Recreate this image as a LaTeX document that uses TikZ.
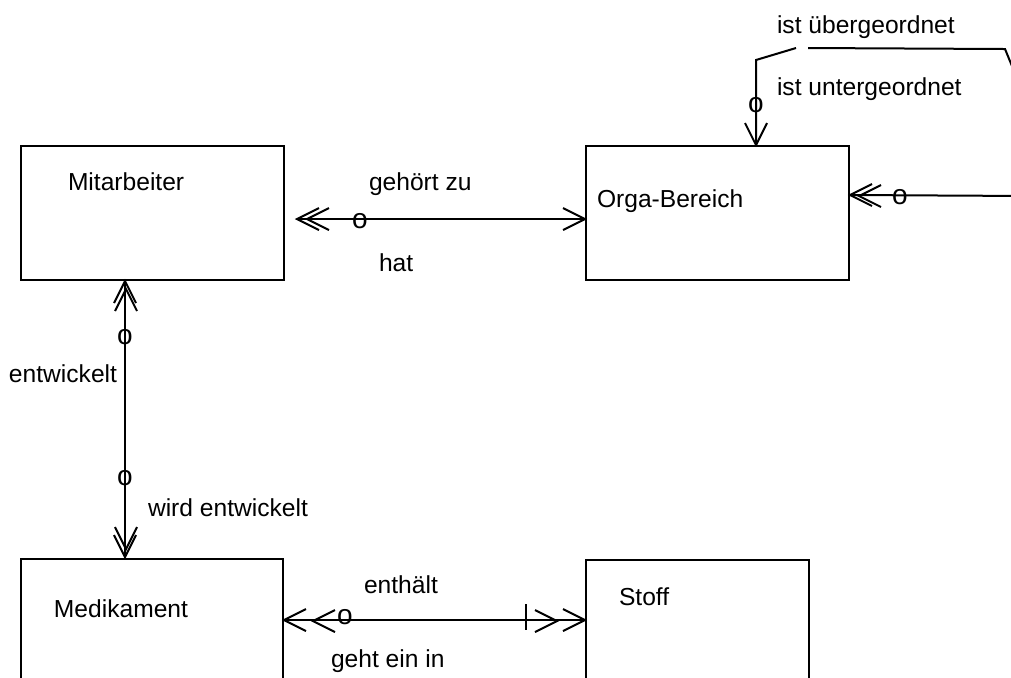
\documentclass[tikz,border=0pt]{standalone}
\usepackage{fontspec}
\setmainfont{Liberation Sans}
\usetikzlibrary{fit,calc}
\begin{document}
\begin{tikzpicture}[x=0.5pt,y=-0.5pt,line width=1pt,
  box/.style={draw,inner sep=0pt},
  lbl/.style={anchor=base west,inner sep=0pt,font=\fontsize{12.3}{14}\selectfont},
  omark/.style={inner sep=0pt,font=\fontsize{14}{16}\selectfont},
  pL/.pic={\draw (22,-11) -- (0,0) -- (22,11);},
  pR/.pic={\draw (-22,-11) -- (0,0) -- (-22,11);},
  pU/.pic={\draw (-11,22) -- (0,0) -- (11,22);},
  pD/.pic={\draw (-11,-22) -- (0,0) -- (11,-22);}]
\useasboundingbox (0,0) rectangle (1011,677);
\clip (0,0) rectangle (1011,677);
% entities
\node[box,fit={(21,146)(284,280)}] (M) {};
\node[box,fit={(586,146)(849,280)}] (O) {};
\node[box,fit={(21,559)(283,740)}] (Med) {};
\node[box,fit={(586,560)(809,740)}] (S) {};
\node[lbl] (tM) at (67,190) {Mitarbeiter};
\node[lbl] (tO) at (596,207) {Orga-Bereich};
\node[lbl] (tMed) at (53,617) {Medikament};
\node[lbl] (tS) at (618,605) {Stoff};
% labels
\node[lbl] (l1) at (368,190) {gehört zu};
\node[lbl] (l2) at (378,271) {hat};
\node[lbl] (l3) at (8,382) {entwickelt};
\node[lbl] (l4) at (147,516) {wird entwickelt};
\node[lbl] (l5) at (363,593) {enthält};
\node[lbl] (l6) at (330,667) {geht ein in};
\node[lbl] (l7) at (776,33) {ist übergeordnet};
\node[lbl] (l8) at (776,95) {ist untergeordnet};
% gehört zu / hat
\coordinate (g1) at (297,219);
\coordinate (g2) at (g1 -| O.west);
\draw (g1) -- (g2);
\pic at (g1) {pL};
\pic at (307,219) {pL};
\pic at (g2) {pR};
\node[omark] (o1) at (360,221) {o};
% entwickelt
\path (M.south west) ++(105,0) coordinate (v1);
\path (Med.north west) ++(105,-1) coordinate (v2);
\draw (v1) -- (v2);
\pic at (v1) {pU};
\pic at (126,289) {pU};
\pic at (v2) {pD};
\pic at (126,549) {pD};
\node[omark] (o2) at (125,337) {o};
\node[omark] (o3) at (125,478) {o};
% enthält
\path (Med.north east) ++(0,62) coordinate (b1);
\path (S.north west) ++(0,61) coordinate (b2);
\draw (b1) -- (b2);
\pic at (b1) {pL};
\pic at (313,621) {pL};
\pic at (b2) {pR};
\pic at (557,621) {pR};
\draw (526,604) -- (526,630);
\node[omark] (o4) at (345,617) {o};
% self relation
\path (O.north west) ++(171,0) coordinate (s1);
\path (O.north east) ++(0,50) coordinate (s2);
\draw (s1) -- ++(0,-85) -- ++(40,-12) ++(12,0) -- (1005,49) -- (1030,110) -- (1030,196) -- (s2);
\pic at (s1) {pD};
\pic at (s2) {pL};
\pic at (859,196) {pL};
\node[omark] (o5) at (756,105) {o};
\node[omark] (o6) at (900,197) {o};
\end{tikzpicture}
\end{document}
